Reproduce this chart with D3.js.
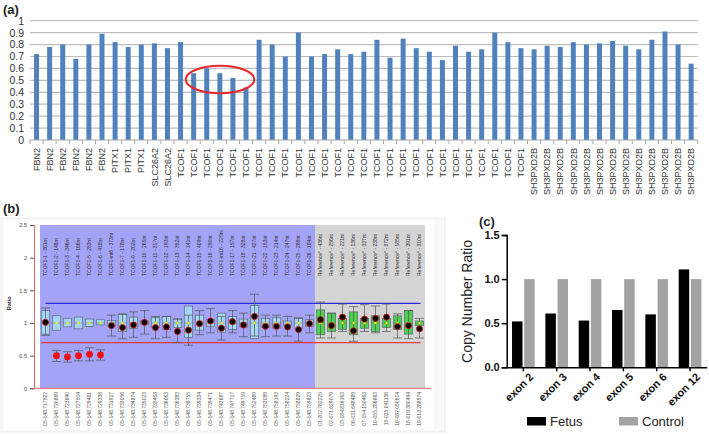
<!DOCTYPE html>
<html><head><meta charset="utf-8">
<script src="https://cdn.jsdelivr.net/npm/d3@7/dist/d3.min.js"></script>
<style>body{margin:0;background:#fff}svg{display:block;font-family:"Liberation Sans",Arial,sans-serif}</style>
</head><body>
<script>
// ---------- Panel (a) data ----------
const aLabels = [
 "FBN2","FBN2","FBN2","FBN2","FBN2","FBN2","PITX1","PITX1","PITX1","SLC26A2","SLC26A2",
 "TCOF1","TCOF1","TCOF1","TCOF1","TCOF1","TCOF1","TCOF1","TCOF1","TCOF1","TCOF1","TCOF1","TCOF1","TCOF1","TCOF1",
 "TCOF1","TCOF1","TCOF1","TCOF1","TCOF1","TCOF1","TCOF1","TCOF1","TCOF1","TCOF1","TCOF1","TCOF1","TCOF1",
 "SH3PXD2B","SH3PXD2B","SH3PXD2B","SH3PXD2B","SH3PXD2B","SH3PXD2B","SH3PXD2B","SH3PXD2B","SH3PXD2B","SH3PXD2B","SH3PXD2B","SH3PXD2B","SH3PXD2B"];
const aValues = [0.72,0.78,0.80,0.68,0.80,0.89,0.82,0.78,0.80,0.81,0.77,
 0.82,0.56,0.60,0.56,0.52,0.44,0.84,0.80,0.70,0.90,0.70,0.72,0.76,0.72,
 0.74,0.84,0.69,0.85,0.77,0.74,0.67,0.79,0.74,0.76,0.90,0.82,0.77,
 0.76,0.79,0.78,0.82,0.80,0.81,0.83,0.79,0.76,0.84,0.91,0.80,0.64];
const aTicks = [0,0.1,0.2,0.3,0.4,0.5,0.6,0.7,0.8,0.9,1];

// ---------- Panel (b) data ----------
const bProbes = ["TCOF1-1 - 361nt","TCOF1-2 - 148nt","TCOF1-3 - 346nt","TCOF1-4 - 166nt","TCOF1-5 - 283nt","TCOF1-6 - 418nt",
 "TCOF1-int6 - 373nt","TCOF1-7 - 178nt","TCOF1-9 - 202nt","TCOF1-10 - 265nt","TCOF1-11 - 317nt","TCOF1-12 - 193nt",
 "TCOF1-13 - 352nt","TCOF1-14 - 141nt","TCOF1-15 - 409nt","TCOF1-16 - 290nt","TCOF1-int16 - 229nt","TCOF1-17 - 157nt",
 "TCOF1-18 - 328nt","TCOF1-21 - 427nt","TCOF1-22 - 153nt","TCOF1-23 - 214nt","TCOF1-24 - 247nt","TCOF1-25 - 288nt","TCOF1-26 - 184nt",
 "Reference* - 436nt","Reference* - 256nt","Reference* - 221nt","Reference* - 136nt","Reference* - 337nt",
 "Reference* - 238nt","Reference* - 372nt","Reference* - 185nt","Reference* - 391nt","Reference* - 310nt"];
const bCoords = ["05-148.717522","05-148.720869","05-148.723690","05-148.727504","05-148.729481","05-148.729338",
 "05-148.731927","05-148.733056","05-148.734874","05-148.735023","05-148.735453","05-148.736063",
 "05-148.736383","05-148.738755","05-148.739334","05-148.739471","05-148.743687","05-148.747717",
 "05-148.749719","05-148.752489","05-148.753089","05-148.758193","05-148.758224","05-148.758829","05-148.759823",
 "01-202.782225","02-071.629079","03-184.816163","06-031.648489","07-154.150463",
 "10-055.286663","15-025.041136","16-082.050614","18-019.380494","19-013.288974"];
const bIsReference = [0,0,0,0,0,0,0,0,0,0,0,0,0,0,0,0,0,0,0,0,0,0,0,0,0,1,1,1,1,1,1,1,1,1,1];
const bBoxLo = [0.83,0.89,0.94,0.91,0.945,0.97,0.95,0.87,0.92,0.98,0.93,0.90,0.93,0.78,0.89,0.95,0.86,0.90,0.94,0.76,0.93,0.92,0.97,0.92,0.95,
 0.82,0.87,0.90,0.82,0.92,0.87,0.93,0.90,0.83,0.96];
const bBoxHi = [1.19,1.11,1.07,1.09,1.06,1.05,1.04,1.13,1.09,1.03,1.08,1.10,1.06,1.26,1.12,1.05,1.15,1.10,1.06,1.27,1.07,1.08,1.03,1.08,1.05,
 1.20,1.15,1.07,1.17,1.07,1.11,1.07,1.11,1.19,1.03];
const bDot = [1.01,0.50,0.48,0.50,0.52,0.51,0.96,0.93,0.97,1.01,0.93,0.94,0.87,0.89,0.99,1.03,0.92,1.02,0.97,1.10,0.95,0.95,0.94,0.90,0.99,
 1.05,0.96,1.09,0.88,1.06,1.07,1.09,0.945,0.96,0.91];
const bErrLo = [0.81,0.41,0.40,0.42,0.42,0.43,0.80,0.76,0.78,0.83,0.76,0.78,0.70,0.66,0.82,0.85,0.74,0.85,0.79,0.80,0.79,0.80,0.80,0.72,0.85,
 0.77,0.77,0.87,0.72,0.87,0.85,0.87,0.77,0.76,0.77];
const bErrHi = [1.23,0.58,0.56,0.58,0.62,0.59,1.12,1.14,1.17,1.19,1.10,1.10,1.06,1.12,1.19,1.22,1.10,1.19,1.15,1.44,1.12,1.12,1.10,1.07,1.12,
 1.32,1.15,1.29,1.25,1.28,1.26,1.29,1.14,1.19,1.07];
const bTicks = [0,0.5,1,1.5,2,2.5];
const bTickLabels = ["0","0.5","1","1.5","2","2.5"];
const bUpper = 1.3, bLower = 0.7;

// ---------- Panel (c) data ----------
const cExons = ["exon 2","exon 3","exon 4","exon 5","exon 6","exon 12"];
const cFetus = [0.52,0.61,0.53,0.65,0.60,1.11];
const cControl = [1.0,1.0,1.0,1.0,1.0,1.0];
const cTicks = [0,0.5,1.0,1.5];

const W = 709, H = 435;
const svg = d3.select("body").append("svg").attr("width", W).attr("height", H);

// ================= Panel (a) =================
{
  const g = svg.append("g");
  g.append("text").attr("x", 3).attr("y", 14).attr("font-size", 13).attr("font-weight", "bold").attr("fill", "#222").text("(a)");
  const x = d3.scaleBand().domain(d3.range(aValues.length)).range([30, 697.7]).paddingInner(0.62).paddingOuter(0.31);
  const y = d3.scaleLinear().domain([0, 1]).range([140, 20.7]);
  g.append("g").selectAll("line").data(aTicks.slice(1)).join("line")
    .attr("x1", 30).attr("x2", 697.7).attr("y1", d => y(d)).attr("y2", d => y(d))
    .attr("stroke", "#bdbdbd").attr("stroke-width", 1.2);
  const ya = d3.axisLeft(y).tickValues(aTicks).tickFormat(d => d3.format("")(+d.toFixed(1))).tickSize(0).tickPadding(6);
  const yg = g.append("g").attr("transform", "translate(30,0)").call(ya);
  yg.select(".domain").remove();
  yg.selectAll("text").attr("font-size", 10.5).attr("fill", "#333").attr("font-family", "Liberation Sans, Arial, sans-serif");
  g.append("g").selectAll("rect").data(aValues).join("rect")
    .attr("x", (d, i) => x(i)).attr("width", x.bandwidth())
    .attr("y", d => y(d)).attr("height", d => y(0) - y(d)).attr("fill", "#4f81bd");
  g.append("line").attr("x1", 30).attr("x2", 697.7).attr("y1", 140).attr("y2", 140).attr("stroke", "#a6a6a6").attr("stroke-width", 1);
  const step = x.step();
  g.append("g").selectAll("line").data(d3.range(aValues.length + 1)).join("line")
    .attr("x1", i => 30 + i * step).attr("x2", i => 30 + i * step).attr("y1", 140).attr("y2", 144)
    .attr("stroke", "#a6a6a6");
  g.append("g").selectAll("text").data(aLabels).join("text")
    .attr("transform", (d, i) => `translate(${x(i) + x.bandwidth() / 2 + 3.2},148) rotate(-90)`)
    .attr("text-anchor", "end").attr("font-size", 9).attr("fill", "#333").text(d => d);
  g.append("ellipse").attr("cx", 220).attr("cy", 79.5).attr("rx", 34.3).attr("ry", 13.8)
    .attr("fill", "none").attr("stroke", "#e8282b").attr("stroke-width", 2);
}

// ================= Panel (b) =================
{
  const g = svg.append("g");
  g.append("text").attr("x", 3).attr("y", 213).attr("font-size", 13).attr("font-weight", "bold").attr("fill", "#222").text("(b)");
  g.append("rect").attr("x", 1).attr("y", 218).attr("width", 444).attr("height", 214).attr("fill", "#f8f8f8").attr("stroke", "#ececec");
  g.append("rect").attr("x", 4).attr("y", 220).attr("width", 430).attr("height", 210).attr("fill", "#ffffff");
  const n = bProbes.length;
  const x = d3.scaleBand().domain(d3.range(n)).range([40, 425]);
  const y = d3.scaleLinear().domain([0, 2.5]).range([388.3, 225]);
  const cx = i => x(i) + x.bandwidth() / 2;
  const nT = bIsReference.indexOf(1);
  g.append("rect").attr("x", x(0)).attr("y", y(2.5)).attr("width", x(nT) - x(0)).attr("height", y(0) - y(2.5)).attr("fill", "#a3a3f7");
  g.append("rect").attr("x", x(nT)).attr("y", y(2.5)).attr("width", 425 - x(nT)).attr("height", y(0) - y(2.5)).attr("fill", "#d4d4d4");
  const ya = d3.axisLeft(y).tickValues(bTicks).tickFormat((d, i) => bTickLabels[i]).tickSize(4).tickPadding(3);
  const yg = g.append("g").attr("transform", "translate(34,0)").call(ya);
  yg.select(".domain").attr("stroke", "#e06a6a");
  yg.selectAll(".tick line").attr("stroke", "#555");
  yg.selectAll("text").attr("font-size", 5.5).attr("fill", "#444");
  g.append("line").attr("x1", 34).attr("x2", 431).attr("y1", y(0)).attr("y2", y(0)).attr("stroke", "#e06a6a").attr("stroke-width", 1);
  g.append("text").attr("transform", `translate(11,${y(1.3)}) rotate(-90)`).attr("text-anchor", "middle")
    .attr("font-size", 5.5).attr("font-weight", "bold").attr("fill", "#333").text("Ratio");
  g.append("line").attr("x1", cx(0)).attr("x2", cx(n - 1) + 1).attr("y1", y(bUpper)).attr("y2", y(bUpper)).attr("stroke", "#2a2ae0").attr("stroke-width", 1.2);
  g.append("line").attr("x1", x(0) + 1).attr("x2", cx(n - 1) + 1).attr("y1", y(bLower)).attr("y2", y(bLower)).attr("stroke", "#e03a3a").attr("stroke-width", 1.2);
  g.append("g").selectAll("text").data(bProbes).join("text")
    .attr("transform", (d, i) => `translate(${cx(i) + 1.8},276) rotate(-90)`)
    .attr("font-size", 5).attr("fill", "#333").text(d => d);
  g.append("g").selectAll("text").data(bCoords).join("text")
    .attr("transform", (d, i) => `translate(${cx(i) + 1.8},392) rotate(-90)`)
    .attr("text-anchor", "end").attr("font-size", 5).attr("fill", "#555").text(d => d);
  const bw = 8.4;
  const probes = g.append("g").selectAll("g").data(d3.range(n)).join("g");
  probes.append("rect").attr("x", i => cx(i) - bw / 2).attr("width", bw)
    .attr("y", i => y(bBoxHi[i])).attr("height", i => y(bBoxLo[i]) - y(bBoxHi[i]))
    .attr("fill", i => bIsReference[i] ? "#4fcf4f" : "#a4d6f4").attr("stroke", "#5a6a7a").attr("stroke-width", 0.7);
  probes.append("line").attr("x1", i => cx(i) - bw / 2).attr("x2", i => cx(i) + bw / 2)
    .attr("y1", y(1)).attr("y2", y(1)).attr("stroke", "#6a7a8a").attr("stroke-width", 0.5);
  const cap = 4.5;
  probes.append("line").attr("x1", cx).attr("x2", cx).attr("y1", i => y(bErrHi[i])).attr("y2", i => y(bErrLo[i]))
    .attr("stroke", "#555").attr("stroke-width", 0.7);
  probes.append("line").attr("x1", i => cx(i) - cap).attr("x2", i => cx(i) + cap).attr("y1", i => y(bErrHi[i])).attr("y2", i => y(bErrHi[i]))
    .attr("stroke", "#555").attr("stroke-width", 0.7);
  probes.append("line").attr("x1", i => cx(i) - cap).attr("x2", i => cx(i) + cap).attr("y1", i => y(bErrLo[i])).attr("y2", i => y(bErrLo[i]))
    .attr("stroke", "#555").attr("stroke-width", 0.7);
  probes.append("circle").attr("cx", cx).attr("cy", y(1)).attr("r", 1.2).attr("fill", "#f2f200");
  probes.append("circle").attr("cx", cx).attr("cy", i => y(bDot[i]))
    .attr("r", i => bDot[i] < bLower ? 3.4 : 3.1)
    .attr("fill", i => bDot[i] < bLower ? "#f01010" : "#050505")
    .attr("stroke", i => bDot[i] < bLower ? "none" : "#e02020").attr("stroke-width", 0.8);
}

// ================= Panel (c) =================
{
  const g = svg.append("g");
  g.append("text").attr("x", 479).attr("y", 226).attr("font-size", 13).attr("font-weight", "bold").attr("fill", "#222").text("(c)");
  const x0 = d3.scaleBand().domain(cExons).range([506.7, 706.7]).paddingInner(0.32).paddingOuter(0.16);
  const x1 = d3.scaleBand().domain(["Fetus", "Control"]).range([0, x0.bandwidth()]).paddingInner(0.14);
  const y = d3.scaleLinear().domain([0, 1.5]).range([367.3, 235]);
  const color = {Fetus: "#000000", Control: "#a3a3a3"};
  const gb = g.append("g").selectAll("g").data(cExons).join("g").attr("transform", d => `translate(${x0(d)},0)`);
  gb.append("rect").attr("x", x1("Fetus")).attr("width", x1.bandwidth())
    .attr("y", (d, i) => y(cFetus[i])).attr("height", (d, i) => y(0) - y(cFetus[i])).attr("fill", color.Fetus);
  gb.append("rect").attr("x", x1("Control")).attr("width", x1.bandwidth())
    .attr("y", (d, i) => y(cControl[i])).attr("height", (d, i) => y(0) - y(cControl[i])).attr("fill", color.Control);
  const ya = d3.axisLeft(y).tickValues(cTicks).tickFormat(d3.format(".1f")).tickSize(5).tickPadding(2);
  const yg = g.append("g").attr("transform", "translate(506.7,0)").call(ya);
  yg.select(".domain").attr("stroke", "#000").attr("stroke-width", 1.5);
  yg.selectAll(".tick line").attr("stroke", "#000").attr("stroke-width", 1.5);
  yg.selectAll("text").attr("font-size", 11).attr("font-weight", "bold").attr("fill", "#111").attr("font-family", "Liberation Sans, Arial, sans-serif");
  const xa = d3.axisBottom(x0).tickSize(4).tickSizeOuter(0);
  const xg = g.append("g").attr("transform", `translate(0,${y(0)})`).call(xa);
  xg.select(".domain").attr("stroke", "#000").attr("stroke-width", 1.5);
  xg.selectAll(".tick line").attr("stroke", "#000").attr("stroke-width", 1.5);
  xg.selectAll("text").attr("font-size", 11).attr("font-weight", "bold").attr("fill", "#111")
    .attr("font-family", "Liberation Sans, Arial, sans-serif")
    .attr("text-anchor", "end").attr("transform", "translate(2,0) rotate(-45)").attr("dy", "0.6em").attr("dx", "-0.1em");
  g.append("text").attr("transform", `translate(472,301.5) rotate(-90)`).attr("text-anchor", "middle")
    .attr("font-size", 14).attr("fill", "#222").text("Copy Number Ratio");
  const leg = [{k: "Fetus", x: 527}, {k: "Control", x: 619}];
  const lg = g.append("g").selectAll("g").data(leg).join("g").attr("transform", d => `translate(${d.x},417)`);
  lg.append("rect").attr("width", 19).attr("height", 8.5).attr("fill", d => color[d.k]);
  lg.append("text").attr("x", 23).attr("y", 9).attr("font-size", 13).attr("fill", "#222").text(d => d.k);
}
</script>
</body></html>
